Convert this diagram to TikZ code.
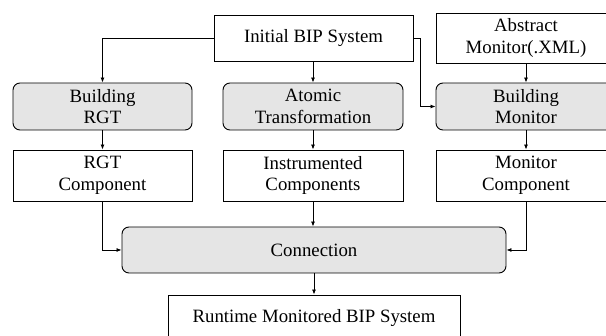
\documentclass[tikz,border=0pt]{standalone}
\usepackage{fontspec}
\setmainfont{Liberation Serif}
\usetikzlibrary{arrows.meta}
\begin{document}
\begin{tikzpicture}[x=1pt,y=-1pt,
  every node/.style={font=\fontsize{18.8}{21.6}\selectfont, align=center, inner sep=0pt, line width=0.9pt},
  plainbox/.style={draw, minimum height=46pt},
  procbox/.style={draw, fill=gray!20, rounded corners=7pt, minimum height=47pt},
  arr/.style={draw, line width=0.8pt, -{Latex[length=5pt,width=4pt]}}
]
\useasboundingbox (0,0) rectangle (606,336);
\node[plainbox, minimum width=199pt] (init) at (313.5,38) {Initial BIP System};
\node[plainbox, minimum width=180pt, minimum height=50pt] (abs) at (526,38) {Abstract\\Monitor(.XML)};
\node[procbox, minimum width=179pt] (brgt) at (102.5,106.5) {Building\\RGT};
\node[procbox, minimum width=180pt] (atom) at (313,106.5) {Atomic\\Transformation};
\node[procbox, minimum width=180pt] (bmon) at (526,106.5) {Building\\Monitor};
\node[plainbox, minimum width=179pt, minimum height=51pt] (rgtc) at (102.5,175.5) {RGT\\Component};
\node[plainbox, minimum width=180pt, minimum height=51pt] (instc) at (313,175.5) {Instrumented\\Components};
\node[plainbox, minimum width=180pt, minimum height=51pt] (monc) at (526,175.5) {Monitor\\Component};
\node[procbox, minimum width=384pt, minimum height=46pt] (conn) at (314,250) {Connection};
\node[plainbox, minimum width=292pt] (rt) at (314,318) {Runtime Monitored BIP System};
\path[arr] (init.west) -| (brgt.north);
\path[arr] (init.south -| atom.north) -- (atom.north);
\path[arr] (init.east) -- ++(7,0) |- (bmon.west);
\path[arr] (abs) -- (bmon);
\path[arr] (brgt) -- (rgtc);
\path[arr] (atom) -- (instc);
\path[arr] (bmon) -- (monc);
\path[arr] (rgtc.south) |- (conn.west);
\path[arr] (monc.south) |- (conn.east);
\path[arr] (instc.south) -- (instc.south |- conn.north);
\path[arr] (conn.south -| rt.north) -- (rt.north);
\end{tikzpicture}
\end{document}
